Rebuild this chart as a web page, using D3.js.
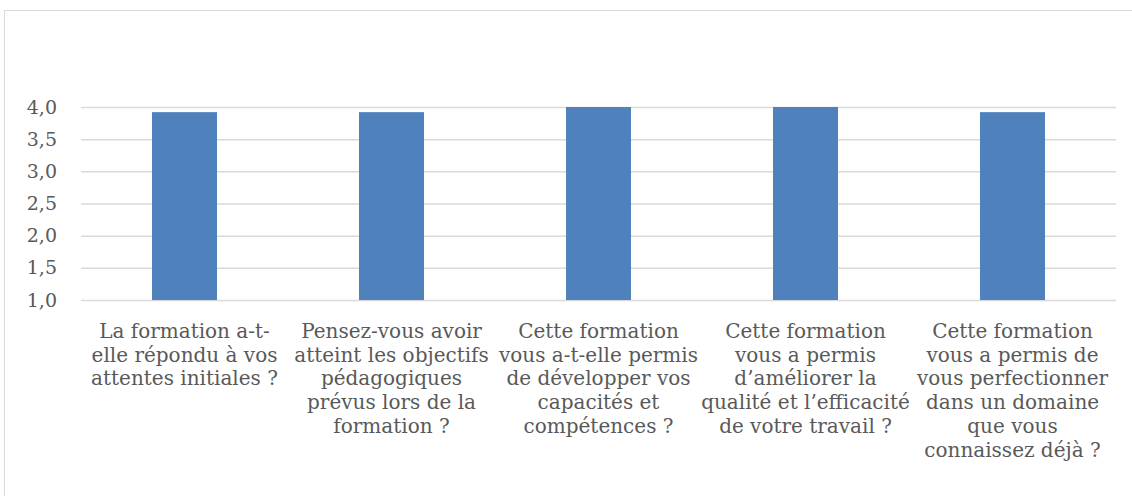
<!DOCTYPE html>
<html>
<head>
<meta charset="utf-8">
<script src="https://cdn.jsdelivr.net/npm/d3@7"></script>
<style>
  body { margin: 0; background: #fff; }
  svg text { font-family: "DejaVu Serif", serif; fill: #595959; }
</style>
</head>
<body>
<div id="chart"></div>
<script>
// data
const questions = [
  ["La formation a-t-", "elle répondu à vos", "attentes initiales ?"],
  ["Pensez-vous avoir", "atteint les objectifs", "pédagogiques", "prévus lors de la", "formation ?"],
  ["Cette formation", "vous a-t-elle permis", "de développer vos", "capacités et", "compétences ?"],
  ["Cette formation", "vous a permis", "d’améliorer la", "qualité et l’efficacité", "de votre travail ?"],
  ["Cette formation", "vous a permis de", "vous perfectionner", "dans un domaine", "que vous", "connaissez déjà ?"]
];
const scores = [3.92, 3.92, 4.0, 4.0, 3.92];
const yTicks = [1.0, 1.5, 2.0, 2.5, 3.0, 3.5, 4.0];

const W = 1132, H = 496;
const margin = {top: 107, right: 16, bottom: 196, left: 81};
const width = W - margin.left - margin.right;
const height = H - margin.top - margin.bottom;

const svg = d3.select("#chart")
  .append("svg")
  .attr("width", W)
  .attr("height", H);

// chart frame
svg.append("rect")
  .attr("x", 4.5)
  .attr("y", 10.5)
  .attr("width", W + 10)
  .attr("height", H + 10)
  .attr("fill", "none")
  .attr("stroke", "#d9d9d9");

const g = svg.append("g")
  .attr("transform", `translate(${margin.left},${margin.top})`);

const ids = d3.range(scores.length);

const x = d3.scaleBand()
  .domain(ids)
  .range([0, width])
  .paddingInner(0.686)
  .paddingOuter(0.343);

const y = d3.scaleLinear()
  .domain([1, 4])
  .range([height, 0]);

const fr = d3.formatLocale({decimal: ",", thousands: " ", grouping: [3], currency: ["", "€"]});
const fmt = fr.format(".1f");

// gridlines + y labels
const yAxis = g.append("g")
  .call(d3.axisLeft(y)
    .tickValues(yTicks)
    .tickFormat(fmt)
    .tickSize(-width)
    .tickPadding(24));

yAxis.select(".domain").remove();
yAxis.selectAll(".tick line")
  .attr("stroke", "#d9d9d9")
  .attr("stroke-width", 1.5);
yAxis.selectAll(".tick text")
  .style("font-size", "19px")
  .style("font-family", "DejaVu Serif, serif")
  .attr("fill", "#595959");

// bars
g.selectAll(".bar")
  .data(scores)
  .join("rect")
  .attr("class", "bar")
  .attr("x", (d, i) => x(i))
  .attr("y", d => y(d))
  .attr("width", x.bandwidth())
  .attr("height", d => y(1) - y(d))
  .attr("fill", "#4f81bd");

// category labels
const lineH = 23.7;
const labels = g.selectAll(".cat")
  .data(questions)
  .join("text")
  .attr("class", "cat")
  .attr("text-anchor", "middle")
  .attr("transform", (d, i) => `translate(${x(i) + x.bandwidth() / 2},${height + 38})`)
  .style("font-size", "20px");

labels.selectAll("tspan")
  .data(d => d)
  .join("tspan")
  .attr("x", 0)
  .attr("y", (d, i) => i * lineH)
  .text(d => d);
</script>
</body>
</html>
